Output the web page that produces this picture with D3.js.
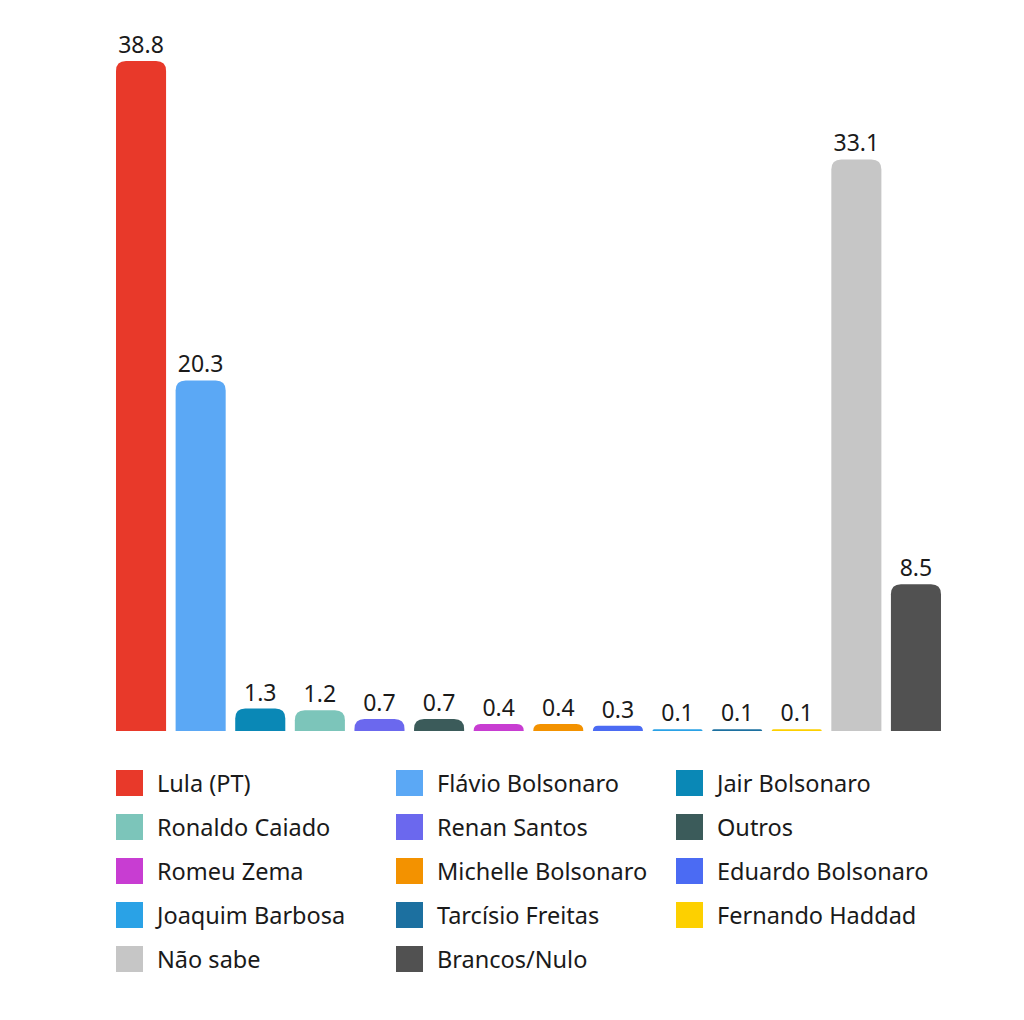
<!DOCTYPE html>
<html><head><meta charset="utf-8">
<script src="https://cdn.jsdelivr.net/npm/d3@7"></script>
<style>body{margin:0;background:#fff}svg{display:block}text{font-family:"Noto Sans",sans-serif;fill:#1a1a1a}</style>
</head><body>
<script>
const categories = ["Lula (PT)","Flávio Bolsonaro","Jair Bolsonaro","Ronaldo Caiado","Renan Santos","Outros","Romeu Zema","Michelle Bolsonaro","Eduardo Bolsonaro","Joaquim Barbosa","Tarcísio Freitas","Fernando Haddad","Não sabe","Brancos/Nulo"];
const values = [38.8,20.3,1.3,1.2,0.7,0.7,0.4,0.4,0.3,0.1,0.1,0.1,33.1,8.5];
const colors = ["#E8392A","#5BA8F5","#0A88B6","#7CC5BA","#6B68EE","#3B5B5A","#C83DD2","#F39200","#4B6BF3","#2AA2E6","#1C70A0","#FDD000","#C6C6C6","#515151"];

const W=1024,H=1020;
const svg=d3.select("body").append("svg").attr("width",W).attr("height",H);
const x=d3.scaleBand().domain(categories).range([116,941]).paddingInner(0.16).paddingOuter(0);
const y=d3.scaleLinear().domain([0,38.8]).range([731,61]);
const r=10;
function barPath(x0,w,y0,yb){
  const h=yb-y0; const rr=Math.min(r,h,w/2);
  return `M${x0},${yb}L${x0},${y0+rr}Q${x0},${y0} ${x0+rr},${y0}L${x0+w-rr},${y0}Q${x0+w},${y0} ${x0+w},${y0+rr}L${x0+w},${yb}Z`;
}
const g=svg.append("g");
g.selectAll("path").data(categories).join("path")
 .attr("d",(d,i)=>barPath(x(d),x.bandwidth(),y(values[i]),y(0)))
 .attr("fill",(d,i)=>colors[i]);
g.selectAll("text").data(categories).join("text")
 .attr("x",d=>x(d)+x.bandwidth()/2).attr("y",(d,i)=>y(values[i])-8)
 .attr("text-anchor","middle").attr("font-size",23).text((d,i)=>values[i].toFixed(1));
const leg=svg.append("g");
const colX=[116,396,676];
categories.forEach((c,i)=>{
  const col=i%3,row=Math.floor(i/3);
  const cy=783+row*44;
  leg.append("rect").attr("x",colX[col]).attr("y",cy-13).attr("width",27).attr("height",26).attr("fill",colors[i]);
  leg.append("text").attr("x",colX[col]+41).attr("y",cy+8.5).attr("font-size",23.5).text(c);
});
</script>
</body></html>
